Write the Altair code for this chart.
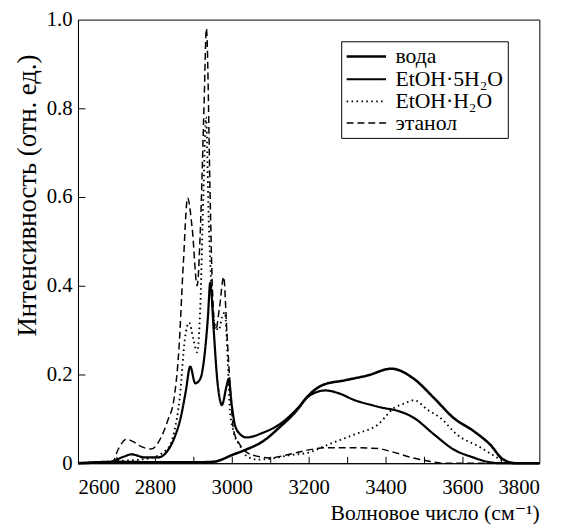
import altair as alt
import pandas as pd

# ---- data ----
series_names = ["вода", "EtOH·5H₂O", "EtOH·H₂O", "этанол"]

water_x = [2600, 2700, 2800, 2900, 2950, 3005, 3038, 3082, 3123, 3167, 3200, 3236,
           3295, 3354, 3415, 3474, 3526, 3577, 3628, 3672, 3705, 3738, 3800]
water_y = [0.0, 0.003, 0.002, 0.002, 0.003, 0.02, 0.031, 0.05, 0.08, 0.117, 0.153, 0.176,
           0.187, 0.198, 0.213, 0.19, 0.147, 0.102, 0.073, 0.042, 0.009, 0.0, 0.0]

eh5_x = [2600, 2680, 2697, 2720, 2739, 2774, 2808, 2833, 2851, 2867, 2880, 2892, 2905,
         2918, 2930, 2938, 2944, 2953, 2962, 2970, 2974, 2987, 2992, 3000, 3008, 3021,
         3038, 3082, 3123, 3167, 3200, 3244, 3277, 3320, 3364, 3397, 3423, 3474, 3526,
         3577, 3628, 3672, 3700, 3800]
eh5_y = [0.0, 0.002, 0.007, 0.015, 0.02, 0.013, 0.013, 0.028, 0.058, 0.102, 0.16, 0.218, 0.18,
         0.19, 0.25, 0.33, 0.407, 0.30, 0.19, 0.14, 0.131, 0.176, 0.19, 0.131, 0.087, 0.066,
         0.058, 0.069, 0.087, 0.12, 0.151, 0.164, 0.158, 0.142, 0.131, 0.124, 0.12, 0.102, 0.065,
         0.031, 0.013, 0.002, 0.0, 0.0]

eh1_x = [2600, 2700, 2780, 2830, 2850, 2865, 2878, 2889, 2900, 2910, 2918, 2926, 2933,
         2940, 2948, 2957, 2966, 2975, 2982, 2990, 2995, 3005, 3021, 3040, 3070, 3100,
         3150, 3200, 3251, 3320, 3380, 3423, 3450, 3474, 3510, 3543, 3585, 3646, 3680,
         3713, 3750, 3800]
eh1_y = [0.0, 0.005, 0.01, 0.03, 0.07, 0.15, 0.28, 0.317, 0.28, 0.25, 0.35, 0.6, 0.78,
         0.55, 0.38, 0.31, 0.30, 0.33, 0.34, 0.22, 0.12, 0.07, 0.04, 0.015, 0.008, 0.01,
         0.018, 0.024, 0.042, 0.065, 0.087, 0.125, 0.135, 0.142, 0.12, 0.102, 0.065, 0.036, 0.018,
         0.003, 0.0, 0.0]

eth_x = [2600, 2690, 2705, 2726, 2745, 2761, 2791, 2816, 2833, 2850, 2862, 2874, 2885,
         2897, 2910, 2918, 2928, 2934, 2944, 2949, 2958, 2968, 2979, 2987, 2995, 3005,
         3021, 3040, 3070, 3097, 3150, 3200, 3250, 3300, 3380, 3420, 3467, 3510, 3550, 3800]
eth_y = [0.0, 0.003, 0.032, 0.054, 0.048, 0.039, 0.032, 0.058, 0.095, 0.147, 0.25, 0.45, 0.598,
         0.53, 0.40, 0.52, 0.81, 0.98, 0.59, 0.41, 0.30, 0.35, 0.42, 0.30, 0.184, 0.073,
         0.042, 0.024, 0.015, 0.012, 0.02, 0.03, 0.035, 0.035, 0.033, 0.025, 0.013, 0.005, 0.0, 0.0]

x_label_values = [2600, 2800, 3000, 3200, 3400, 3600, 3800]
x_tick_values = [2700, 2800, 2900, 3000, 3100, 3200, 3300, 3400, 3500, 3600, 3700]
y_values = [0, 0.2, 0.4, 0.6, 0.8, 1.0]
y_tick_values = [0.2, 0.4, 0.6, 0.8]

# ---- table ----
rows = []
for name, xs, ys in [(series_names[0], water_x, water_y),
                     (series_names[1], eh5_x, eh5_y),
                     (series_names[2], eh1_x, eh1_y),
                     (series_names[3], eth_x, eth_y)]:
    for xv, yv in zip(xs, ys):
        rows.append({"x": xv, "y": yv, "series": name})
df = pd.DataFrame(rows)

FONT = "Liberation Serif, DejaVu Serif, serif"
xscale = alt.Scale(domain=[2600, 3800], nice=False, zero=False)
yscale = alt.Scale(domain=[0, 1], nice=False)

lines = alt.Chart(df).mark_line(color="black", interpolate="monotone").encode(
    x=alt.X("x:Q", scale=xscale,
            axis=alt.Axis(orient="bottom", values=x_label_values, ticks=False, grid=False,
                          labelPadding=14, format="d",
                          title="Волновое число (см⁻¹)",
                          titleAlign="right", titleX=468, titleY=57,
                          titleFontSize=22, titleBaseline="alphabetic")),
    y=alt.Y("y:Q", scale=yscale,
            axis=alt.Axis(orient="left", values=y_values, ticks=False, grid=False,
                          labelPadding=6,
                          labelExpr="datum.value == 0 ? '0' : format(datum.value, '.1f')",
                          title="Интенсивность (отн. ед.)", titleFontSize=27,
                          titleX=-43, titleY=178, titleBaseline="alphabetic")),
    strokeDash=alt.StrokeDash("series:N",
                              scale=alt.Scale(domain=series_names,
                                              range=[[1, 0], [1, 0], [1.6, 3.4], [7, 4]]),
                              legend=alt.Legend(title=None)),
    strokeWidth=alt.StrokeWidth("series:N",
                                scale=alt.Scale(domain=series_names,
                                                range=[2.6, 1.5, 1.6, 1.5]),
                                legend=alt.Legend(title=None)),
)

ticks = alt.Chart(df).mark_point(opacity=0).encode(
    x=alt.X("x:Q", scale=xscale,
            axis=alt.Axis(orient="bottom", offset=-7, tickSize=7, values=x_tick_values,
                          labels=False, domain=False, grid=False, title=None,
                          tickColor="black", tickWidth=1)),
    y=alt.Y("y:Q", scale=yscale,
            axis=alt.Axis(orient="left", offset=-7, tickSize=7, values=y_tick_values,
                          labels=False, domain=False, grid=False, title=None,
                          tickColor="black", tickWidth=1)),
)

chart = alt.layer(lines, ticks).resolve_axis(x="independent", y="independent").properties(
    width=468, height=450,
    autosize=alt.AutoSizeParams(type="none"),
    padding={"left": 71, "top": 8, "right": 24, "bottom": 64},
).configure_view(
    stroke="black", strokeWidth=1
).configure_axis(
    domainColor="black", domainWidth=1,
    labelFont=FONT, labelFontSize=21, labelColor="black",
    titleFont=FONT, titleFontWeight="normal", titleColor="black",
).configure_legend(
    orient="none", legendX=267, legendY=22,
    strokeColor="black", strokeWidth=1, fillColor="white",
    padding=4, symbolType="M-1,0H3", symbolSize=400, symbolStrokeColor="black",
    labelFont=FONT, labelFontSize=22, labelColor="black", labelLimit=300,
    rowPadding=0, labelOffset=28,
)

chart.save("out.html", embed_options={"renderer": "svg", "actions": False})
